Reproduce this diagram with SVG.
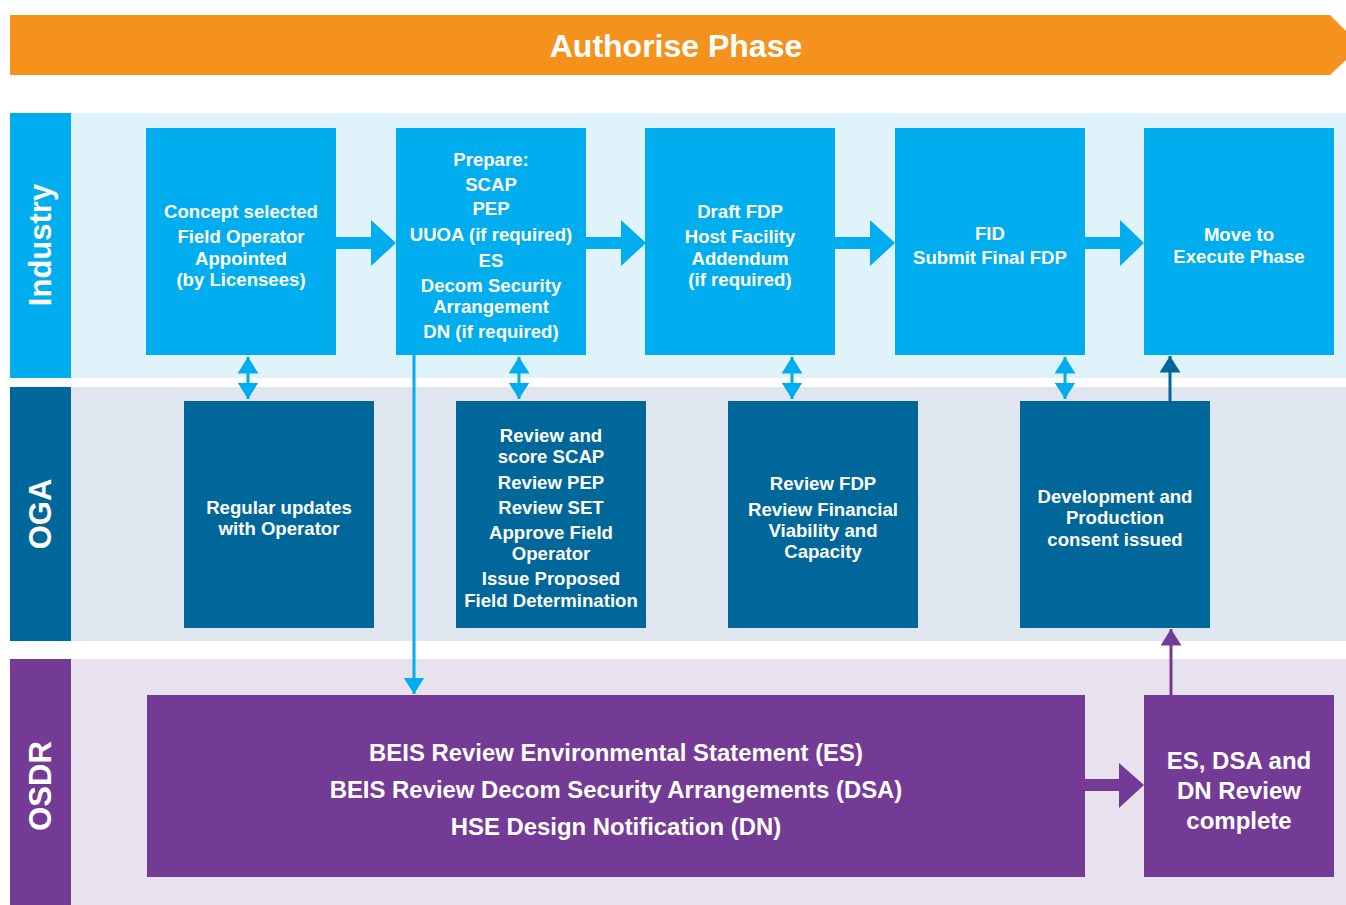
<svg xmlns="http://www.w3.org/2000/svg" width="1346" height="905" viewBox="0 0 1346 905">
<defs>
<style>
text{font-family:"Liberation Sans",Arial,sans-serif;font-weight:bold;fill:#fff;text-anchor:middle;dominant-baseline:central}
.t{font-size:18.6px}
.b{font-size:23.9px}
.lane{font-size:31px}
.ind{fill:#00AEEF}
.oga{fill:#00679A}
.osd{fill:#743B96}
.lb{stroke:#00AEEF;stroke-width:3;fill:none}
.db{stroke:#00679A;stroke-width:3;fill:none}
.pl{stroke:#743B96;stroke-width:3;fill:none}
</style>
<marker id="ha" viewBox="0 0 10 10" refX="10" refY="5" markerWidth="5.5" markerHeight="7" markerUnits="strokeWidth" orient="auto-start-reverse" preserveAspectRatio="none"><path d="M0,0L10,5L0,10Z" fill="#00AEEF"/></marker>
<marker id="hd" viewBox="0 0 10 10" refX="10" refY="5" markerWidth="5.5" markerHeight="7" markerUnits="strokeWidth" orient="auto" preserveAspectRatio="none"><path d="M0,0L10,5L0,10Z" fill="#00679A"/></marker>
<marker id="hp" viewBox="0 0 10 10" refX="10" refY="5" markerWidth="5.5" markerHeight="7" markerUnits="strokeWidth" orient="auto" preserveAspectRatio="none"><path d="M0,0L10,5L0,10Z" fill="#743B96"/></marker>
</defs>
<rect width="1346" height="905" fill="#fff"/>
<g id="banner">
<path d="M10,15H1330L1346,31V60L1330,75H10Z" fill="#F5921E"/>
<text x="676" y="46" style="font-size:32px">Authorise Phase</text>
</g>
<g id="lanes">
<rect x="71" y="113" width="1275" height="265" fill="#E0F2FA"/>
<rect x="10" y="113" width="61" height="265" class="ind"/>
<text class="lane" transform="translate(40,245) rotate(-90)">Industry</text>
<rect x="71" y="387" width="1275" height="254" fill="#E0E6F0"/>
<rect x="10" y="387" width="61" height="254" class="oga"/>
<text class="lane" transform="translate(40,514) rotate(-90)">OGA</text>
<rect x="71" y="659" width="1275" height="246" fill="#E8E2EF"/>
<rect x="10" y="659" width="61" height="246" class="osd"/>
<text class="lane" transform="translate(40,786) rotate(-90)">OSDR</text>
</g>
<g id="connectors">
<path d="M336,237H371V220L396,243L371,266V249H336Z" class="ind"/>
<path d="M586,237H621V220L646,243L621,266V249H586Z" class="ind"/>
<path d="M835,237H870V220L895,243L870,266V249H835Z" class="ind"/>
<path d="M1085,237H1120V220L1144,243L1120,266V249H1085Z" class="ind"/>
<path d="M1085,779H1119V763L1144,785L1119,808V791H1085Z" class="osd"/>
<line x1="248" y1="357" x2="248" y2="399" class="lb" marker-start="url(#ha)" marker-end="url(#ha)"/>
<line x1="519" y1="357" x2="519" y2="399" class="lb" marker-start="url(#ha)" marker-end="url(#ha)"/>
<line x1="792" y1="357" x2="792" y2="399" class="lb" marker-start="url(#ha)" marker-end="url(#ha)"/>
<line x1="1065" y1="357" x2="1065" y2="399" class="lb" marker-start="url(#ha)" marker-end="url(#ha)"/>
<line x1="414" y1="355" x2="414" y2="694" class="lb" marker-end="url(#ha)"/>
<line x1="1170" y1="401" x2="1170" y2="356" class="db" marker-end="url(#hd)"/>
<line x1="1171" y1="695" x2="1171" y2="629" class="pl" marker-end="url(#hp)"/>
</g>
<g id="n1"><rect x="146" y="128" width="190" height="227" class="ind"/>
<text class="t" x="241" y="211">Concept selected</text><text class="t" x="241" y="236">Field Operator</text><text class="t" x="241" y="258">Appointed</text><text class="t" x="241" y="279">(by Licensees)</text></g>
<g id="n2"><rect x="396" y="128" width="190" height="227" class="ind"/>
<text class="t" x="491" y="159">Prepare:</text><text class="t" x="491" y="184">SCAP</text><text class="t" x="491" y="208">PEP</text><text class="t" x="491" y="234">UUOA (if required)</text><text class="t" x="491" y="260">ES</text><text class="t" x="491" y="285">Decom Security</text><text class="t" x="491" y="306">Arrangement</text><text class="t" x="491" y="331">DN (if required)</text></g>
<g id="n3"><rect x="645" y="128" width="190" height="227" class="ind"/>
<text class="t" x="740" y="211">Draft FDP</text><text class="t" x="740" y="236">Host Facility</text><text class="t" x="740" y="258">Addendum</text><text class="t" x="740" y="279">(if required)</text></g>
<g id="n4"><rect x="895" y="128" width="190" height="227" class="ind"/>
<text class="t" x="990" y="233">FID</text><text class="t" x="990" y="257">Submit Final FDP</text></g>
<g id="n5"><rect x="1144" y="128" width="190" height="227" class="ind"/>
<text class="t" x="1239" y="234">Move to</text><text class="t" x="1239" y="256">Execute Phase</text></g>
<g id="o1"><rect x="184" y="401" width="190" height="227" class="oga"/>
<text class="t" x="279" y="507">Regular updates</text><text class="t" x="279" y="528">with Operator</text></g>
<g id="o2"><rect x="456" y="401" width="190" height="227" class="oga"/>
<text class="t" x="551" y="435">Review and</text><text class="t" x="551" y="456">score SCAP</text><text class="t" x="551" y="482">Review PEP</text><text class="t" x="551" y="507">Review SET</text><text class="t" x="551" y="532">Approve Field</text><text class="t" x="551" y="553">Operator</text><text class="t" x="551" y="578">Issue Proposed</text><text class="t" x="551" y="600">Field Determination</text></g>
<g id="o3"><rect x="728" y="401" width="190" height="227" class="oga"/>
<text class="t" x="823" y="483">Review FDP</text><text class="t" x="823" y="509">Review Financial</text><text class="t" x="823" y="530">Viability and</text><text class="t" x="823" y="551">Capacity</text></g>
<g id="o4"><rect x="1020" y="401" width="190" height="227" class="oga"/>
<text class="t" x="1115" y="496">Development and</text><text class="t" x="1115" y="517">Production</text><text class="t" x="1115" y="539">consent issued</text></g>
<g id="s1"><rect x="147" y="695" width="938" height="182" class="osd"/>
<text class="b" x="616" y="752">BEIS Review Environmental Statement (ES)</text><text class="b" x="616" y="789">BEIS Review Decom Security Arrangements (DSA)</text><text class="b" x="616" y="826">HSE Design Notification (DN)</text></g>
<g id="s2"><rect x="1144" y="695" width="190" height="182" class="osd"/>
<text class="b" x="1239" y="760" style="font-size:24px">ES, DSA and</text><text class="b" x="1239" y="790" style="font-size:24px">DN Review</text><text class="b" x="1239" y="820" style="font-size:24px">complete</text></g>
</svg>
